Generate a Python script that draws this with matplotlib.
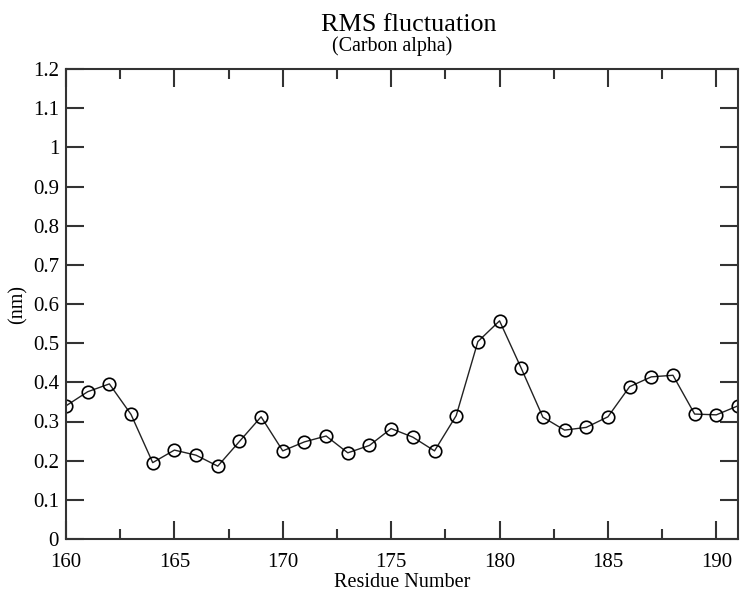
import matplotlib
matplotlib.use("Agg")
import matplotlib.pyplot as plt
from matplotlib.ticker import MultipleLocator

# --- data ---
residues = list(range(160, 192))
rmsf = [0.340, 0.376, 0.396, 0.318, 0.195, 0.227, 0.214, 0.186,
        0.249, 0.312, 0.225, 0.248, 0.263, 0.220, 0.239, 0.282,
        0.260, 0.225, 0.315, 0.504, 0.557, 0.436, 0.311, 0.278,
        0.285, 0.312, 0.389, 0.414, 0.418, 0.319, 0.317, 0.340]

plt.rcParams['font.family'] = ['Liberation Serif', 'DejaVu Serif']

fig = plt.figure(figsize=(7.45, 5.94), dpi=100)
ax = fig.add_axes([66 / 745, 55 / 594, 672 / 745, 470 / 594])

ax.plot(residues, rmsf, color='#222222', linewidth=1.0,
        marker='o', markersize=9, markerfacecolor='none',
        markeredgecolor='black', markeredgewidth=1.2)

ax.set_xlim(160, 191)
ax.set_ylim(0, 1.2)
ax.xaxis.set_major_locator(MultipleLocator(5))
ax.xaxis.set_minor_locator(MultipleLocator(2.5))
ax.yaxis.set_major_locator(MultipleLocator(0.1))
ax.yaxis.set_major_formatter(plt.FuncFormatter(lambda v, p: f"{v:g}"))

ax.tick_params(which='both', direction='in', top=True, right=True,
               labelsize=15, width=1.5, color='#333333')
ax.tick_params(which='major', length=13)
ax.tick_params(axis='x', which='major', pad=10)
ax.tick_params(axis='y', which='major', pad=5)
ax.tick_params(which='minor', length=7)
for s in ax.spines.values():
    s.set_linewidth(1.5)
    s.set_color('#333333')

ax.set_xlabel('Residue Number', fontsize=14.5, labelpad=1)
ax.set_ylabel('(nm)', fontsize=14.5, labelpad=4)

fig.text(0.548, 1 - 31 / 594, 'RMS fluctuation', fontsize=18.8,
         ha='center', va='baseline')
fig.text(0.526, 1 - 51 / 594, '(Carbon alpha)', fontsize=14.4,
         ha='center', va='baseline')

fig.savefig('out.png', dpi=100)
